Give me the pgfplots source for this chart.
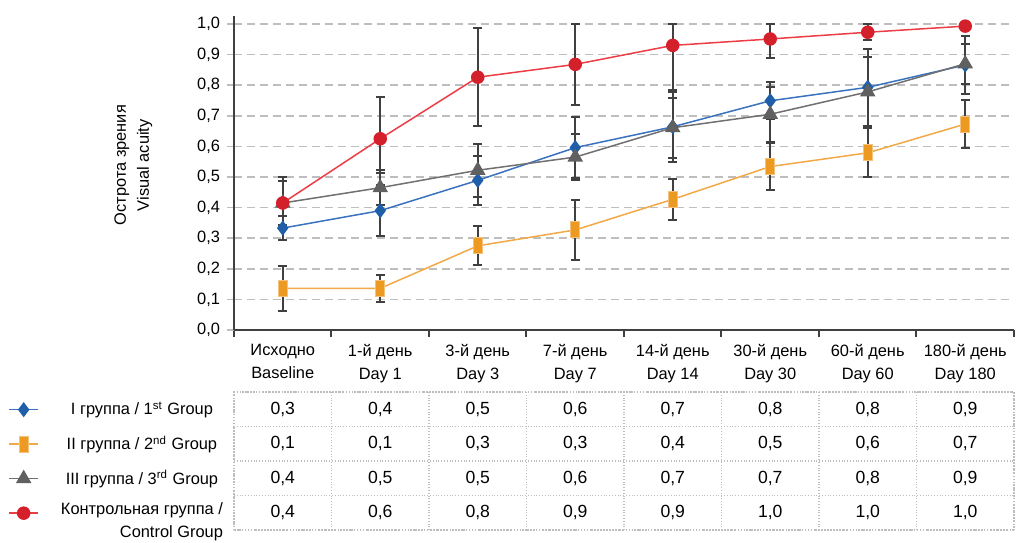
\documentclass[border=0pt]{standalone}
\usepackage{fontspec}
\setmainfont{Liberation Sans}
\usepackage{pgfplots}
\pgfplotsset{compat=1.18}

\definecolor{blueL}{RGB}{58,114,192}
\definecolor{blueM}{RGB}{31,95,170}
\definecolor{orL}{RGB}{242,168,70}
\definecolor{orM}{RGB}{236,154,34}
\definecolor{grL}{RGB}{112,112,112}
\definecolor{grM}{RGB}{96,96,96}
\definecolor{redL}{RGB}{236,60,70}
\definecolor{redM}{RGB}{212,32,42}
\definecolor{errc}{RGB}{64,64,64}
\definecolor{axc}{RGB}{64,64,64}
\definecolor{gridc}{RGB}{190,190,190}

\pgfplotsset{
  numfmt/.style={/pgf/number format/.cd, fixed, fixed zerofill, precision=1,
    use comma, assume math mode=true},
  errs/.style={error bars/.cd, y dir=both, y explicit,
    error bar style={line width=1pt, draw=errc},
    error mark options={rotate=90, line width=1pt, draw=errc, mark size=2.2pt}},
}

\begin{document}
\begin{tikzpicture}
\path[use as bounding box] (0,0) rectangle (512pt,271pt);

\begin{axis}[
  at={(117pt,106pt)}, anchor=south west,
  scale only axis, width=390pt, height=157pt,
  font=\fontsize{8.2}{11.5}\selectfont,
  xmin=-0.5, xmax=7.5, ymin=0, ymax=1.0261,
  axis x line=bottom, axis y line=left,
  axis line style={-, line width=1pt, draw=axc},
  tick align=outside,
  xtick={-0.5,0.5,1.5,2.5,3.5,4.5,5.5,6.5,7.5},
  x tick label as interval,
  xticklabels={{Исходно\\Baseline},{1-й день\\Day 1},{3-й день\\Day 3},
    {7-й день\\Day 7},{14-й день\\Day 14},{30-й день\\Day 30},
    {60-й день\\Day 60},{180-й день\\Day 180}},
  x tick label style={align=center},
  xtick style={draw=axc, line width=1pt},
  major tick length=3.5pt,
  ytick={0,0.1,0.2,0.3,0.4,0.5,0.6,0.7,0.8,0.9,1.0},
  yticklabel style={numfmt},
  ytick style={draw=gridc, line width=0.75pt},
  ymajorgrids,
  major grid style={gridc, line width=0.75pt, dash pattern=on 4pt off 2.5pt},
  ylabel={Острота зрения\\Visual acuity},
  ylabel style={align=center, at={(axis description cs:-0.129,0.525)}, anchor=center},
  legend style={at={(axis description cs:-0.2897,-0.1975)}, anchor=north west,
    draw=none, fill=none, inner sep=0pt, row sep=0pt,
    nodes={inner sep=0pt, minimum height=17.25pt},
    /tikz/every odd column/.style={column sep=7.5pt}},
  legend image code/.code={\draw[mark repeat=2, mark phase=2, #1]
    plot coordinates {(0pt,0pt) (7.25pt,0pt) (14.5pt,0pt)};},
]
% I group
\addplot[blueL, line width=0.75pt, mark=diamond*, mark size=3.2pt,
  mark options={fill=blueM, draw=blueM}, errs] coordinates {
  (0,0.333) +- (0,0.040)
  (1,0.390) +- (0,0.083)
  (2,0.489) +- (0,0.080)
  (3,0.596) +- (0,0.100)
  (4,0.664) +- (0,0.115)
  (5,0.749) +- (0,0.060)
  (6,0.793) +- (0,0.125)
  (7,0.866) +- (0,0.095)
};
% II group
\addplot[orL, line width=0.75pt, mark=square*, mark size=4pt,
  mark options={fill=orM, draw=orM!60!white, xscale=0.58, line width=0.5pt}, errs] coordinates {
  (0,0.136) +- (0,0.074)
  (1,0.136) +- (0,0.044)
  (2,0.275) +- (0,0.064)
  (3,0.327) +- (0,0.097)
  (4,0.427) +- (0,0.067)
  (5,0.534) +- (0,0.078)
  (6,0.579) +- (0,0.080)
  (7,0.673) +- (0,0.077)
};
% III group
\addplot[grL, line width=0.75pt, mark=triangle*, mark size=3.75pt,
  mark options={fill=grM, draw=grM}, errs] coordinates {
  (0,0.415) +- (0,0.072)
  (1,0.465) +- (0,0.058)
  (2,0.522) +- (0,0.086)
  (3,0.565) +- (0,0.075)
  (4,0.661) +- (0,0.098)
  (5,0.705) +- (0,0.090)
  (6,0.778) +- (0,0.115)
  (7,0.870) +- (0,0.065)
};
% control group
\addplot[redL, line width=0.75pt, mark=*, mark size=3pt,
  mark options={fill=redM, draw=redM}, errs] coordinates {
  (0,0.415) +- (0,0.085)
  (1,0.625) += (0,0.137) -= (0,0.112)
  (2,0.826) +- (0,0.160)
  (3,0.868) += (0,0.131) -= (0,0.132)
  (4,0.930) += (0,0.070) -= (0,0.146)
  (5,0.951) += (0,0.050) -= (0,0.063)
  (6,0.973) +- (0,0.026)
  (7,0.993) +- (0,0.000)
};
\legend{\makebox[88pt]{I группа / 1\textsuperscript{st} Group},
  \makebox[88pt]{II группа / 2\textsuperscript{nd} Group},
  \makebox[88pt]{III группа / 3\textsuperscript{rd} Group},
  \makebox[88pt]{\begin{tabular}{@{}r@{}}Контрольная группа /\\Control Group\end{tabular}}}
\end{axis}

% table of rounded values
\begin{axis}[
  at={(117pt,6pt)}, anchor=south west,
  scale only axis, width=390pt, height=69pt,
  font=\fontsize{8.8}{11}\selectfont,
  xmin=-0.5, xmax=7.5, ymin=0, ymax=4,
  xtick={-0.5,0.5,1.5,2.5,3.5,4.5,5.5,6.5,7.5}, ytick={0,1,2,3,4},
  xticklabels={}, yticklabels={}, major tick length=0pt,
  grid=major, major grid style={densely dotted, gridc, line width=0.6pt},
  axis line style={densely dotted, gridc, line width=0.6pt},
  numfmt,
]
\addplot[draw=none, mark=none, point meta=explicit, nodes near coords,
  nodes near coords style={anchor=center, text=black}] coordinates {
  (0,3.5) [0.3] (1,3.5) [0.4] (2,3.5) [0.5] (3,3.5) [0.6]
  (4,3.5) [0.7] (5,3.5) [0.8] (6,3.5) [0.8] (7,3.5) [0.9]
  (0,2.5) [0.1] (1,2.5) [0.1] (2,2.5) [0.3] (3,2.5) [0.3]
  (4,2.5) [0.4] (5,2.5) [0.5] (6,2.5) [0.6] (7,2.5) [0.7]
  (0,1.5) [0.4] (1,1.5) [0.5] (2,1.5) [0.5] (3,1.5) [0.6]
  (4,1.5) [0.7] (5,1.5) [0.7] (6,1.5) [0.8] (7,1.5) [0.9]
  (0,0.5) [0.4] (1,0.5) [0.6] (2,0.5) [0.8] (3,0.5) [0.9]
  (4,0.5) [0.9] (5,0.5) [1.0] (6,0.5) [1.0] (7,0.5) [1.0]
};
\end{axis}
\end{tikzpicture}
\end{document}
